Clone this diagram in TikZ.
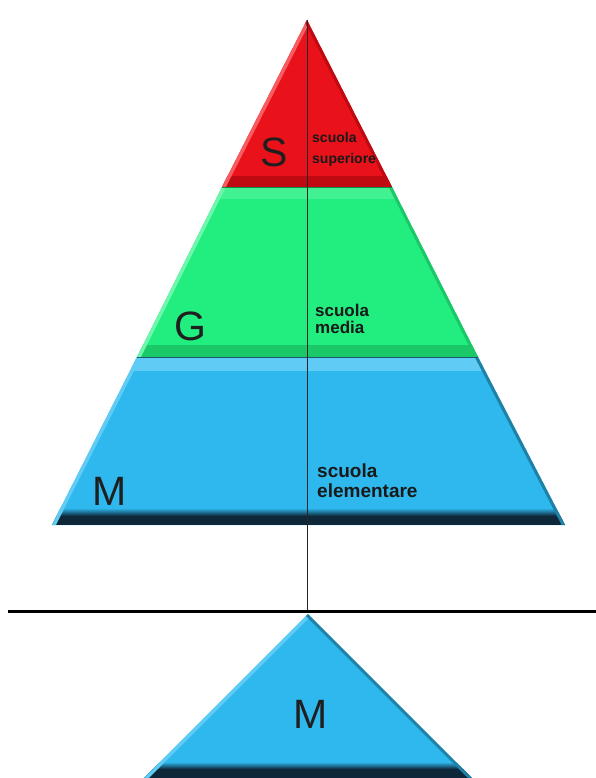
\documentclass[tikz,border=0pt]{standalone}
\usepackage{fontspec}
\setmainfont{Liberation Sans}

\definecolor{redfill}{RGB}{234,18,26}
\definecolor{redlight}{RGB}{246,92,96}
\definecolor{reddark}{RGB}{192,10,18}
\definecolor{greenfill}{RGB}{34,238,128}
\definecolor{greenlight}{RGB}{110,246,172}
\definecolor{greendark}{RGB}{26,200,104}
\definecolor{bluefill}{RGB}{46,184,238}
\definecolor{bluelight}{RGB}{96,204,246}
\definecolor{bluedark}{RGB}{14,40,58}

\begin{document}
\begin{tikzpicture}[x=1pt, y=-1pt,
    letter/.style={inner sep=0pt, text=black!88, font=\fontsize{41}{41}\selectfont},
    tag/.style={anchor=base west, align=left, inner sep=0pt, text=black!90}]
  \useasboundingbox (0,0) rectangle (596,778);
  % Corners of the pyramid:
  \coordinate (apex) at (307,20);
  \coordinate (sl) at (222,187);
  \coordinate (sr) at (392,187);
  \coordinate (gl) at (137,357);
  \coordinate (gr) at (478,357);
  \coordinate (ml) at (52,525);
  \coordinate (mr) at (565,525);

  % Red tier:
  \fill[redfill] (apex) -- (sr) -- (sl) -- cycle;
  \begin{scope}
    \clip (apex) -- (sr) -- (sl) -- cycle;
    \fill[reddark] (0,176) rectangle (596,187);
    \draw[line width=7pt, redlight] (apex) -- (sl);
    \draw[line width=6pt, reddark] (apex) -- (sr);
  \end{scope}

  % Green tier:
  \fill[greenfill] (sl) -- (sr) -- (gr) -- (gl) -- cycle;
  \begin{scope}
    \clip (sl) -- (sr) -- (gr) -- (gl) -- cycle;
    \fill[greenlight!40!greenfill] (0,187) rectangle (596,199);
    \fill[greendark] (0,345) rectangle (596,357);
    \draw[line width=7pt, greenlight] (sl) -- (gl);
    \draw[line width=6pt, greendark] (sr) -- (gr);
  \end{scope}
  \draw[greendark!70!black, thin] (sl) -- (sr);

  % Blue tier:
  \fill[bluefill] (gl) -- (gr) -- (mr) -- (ml) -- cycle;
  \begin{scope}
    \clip (gl) -- (gr) -- (mr) -- (ml) -- cycle;
    \fill[bluelight] (0,357) rectangle (596,371);
    \shade[top color=bluefill, bottom color=bluedark] (0,508) rectangle (596,516);
    \fill[bluedark] (0,516) rectangle (596,525);
    \draw[line width=7pt, bluelight] (gl) -- (ml);
    \draw[line width=6pt, bluefill!70!black] (gr) -- (mr);
  \end{scope}
  \draw[bluefill!50!black, thin] (gl) -- (gr);

  % Letters and names of the schools:
  \node[letter] (s) at (274,152) {S};
  \node[letter] (g) at (190,326) {G};
  \node[letter] (m) at (110,491) {M};
  \node[tag, font=\bfseries\fontsize{14}{21}\selectfont] (sup) at (312,164) {scuola\\superiore};
  \node[tag, font=\bfseries\fontsize{17}{17}\selectfont] (med) at (315,333) {scuola\\media};
  \node[tag, font=\bfseries\fontsize{19}{20}\selectfont] (ele) at (317,497) {scuola\\elementare};

  % Axis and base line:
  \coordinate (hit) at (307,610);
  \coordinate (hl) at (8,611);
  \coordinate (hr) at (596,611);
  \draw[black!85, line width=0.8pt] (apex) -- (hit);
  \draw[line width=3pt] (hl) -- (hr);

  % Small triangle below the line:
  \coordinate (tip) at (308,614);
  \coordinate (tl) at (140,782);
  \coordinate (tr) at (476,782);
  \fill[bluefill] (tip) -- (tr) -- (tl) -- cycle;
  \begin{scope}
    \clip (tip) -- (tr) -- (tl) -- cycle;
    \shade[top color=bluefill, bottom color=bluedark] (0,762) rectangle (596,769);
    \fill[bluedark] (0,769) rectangle (596,782);
    \draw[line width=7pt, bluelight] (tip) -- (tl);
    \draw[line width=6pt, bluefill!70!black] (tip) -- (tr);
  \end{scope}
  \node[letter] (m2) at (311,714) {M};
\end{tikzpicture}
\end{document}
